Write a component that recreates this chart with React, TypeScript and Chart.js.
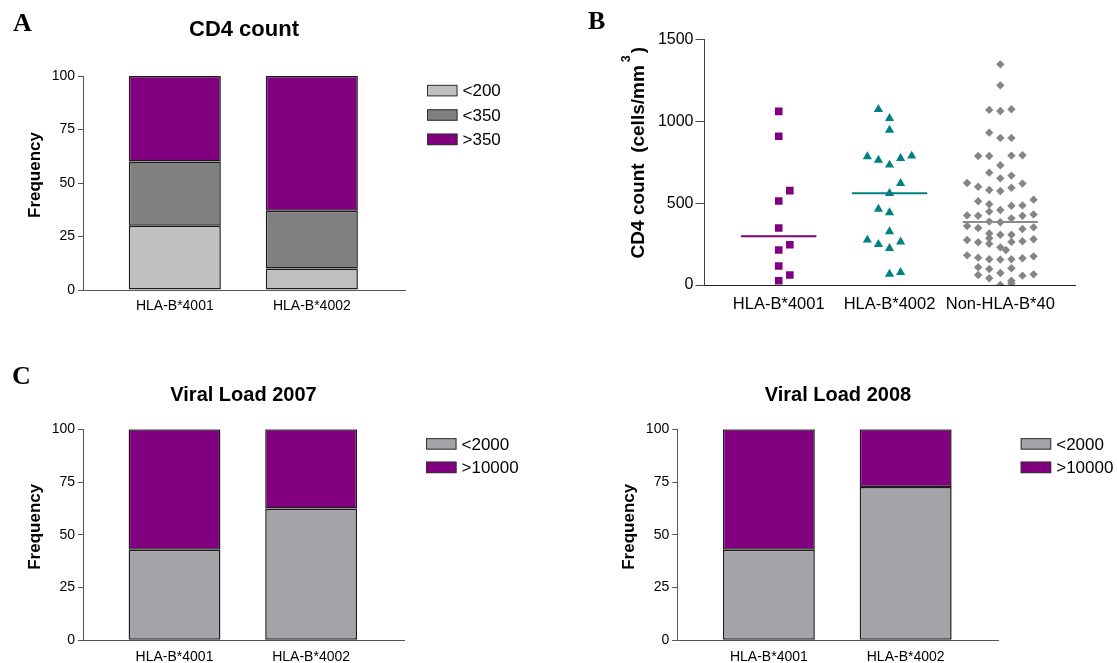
import React, { useEffect, useRef } from "react";
import { Chart, registerables } from "chart.js";

Chart.register(...registerables);

const FONT = "'Liberation Sans', Arial, Helvetica, sans-serif";
const SERIF = "'Liberation Serif', 'Times New Roman', serif";

// ---------------- data ----------------
const barCategories = ["HLA-B*4001", "HLA-B*4002"];
const frequencyTicks = [0, 25, 50, 75, 100];

const cd4Groups = ["<200", "<350", ">350"];
const cd4Below200 = [30, 10];
const cd4Below350 = [30, 27];
const cd4Above350 = [40, 63];
const cd4Colors = ["#c0c0c0", "#808080", "#800080"];

const viralGroups = ["<2000", ">10000"];
const vl2007Below2000 = [42.9, 62.5];
const vl2007Above10000 = [57.1, 37.5];
const vl2008Below2000 = [42.9, 72.7];
const vl2008Above10000 = [57.1, 27.3];
const viralColors = ["#a4a4a8", "#800080"];

const scatterCategories = ["HLA-B*4001", "HLA-B*4002", "Non-HLA-B*40"];
const cd4CountTicks = [0, 500, 1000, 1500];

// CD4 counts (cells/mm3) and horizontal jitter column of each point
const b4001Counts = [1060, 908, 576, 513, 348, 246, 214, 116, 61, 26];
const b4001Jitter = [0, 0, 1, 0, 0, 1, 0, 0, 1, 0];

const b4002Counts = [1073, 1018, 946, 784, 763, 773, 788, 733, 621, 560, 464, 442, 326, 275, 248, 263, 224, 67, 77];
const b4002Jitter = [-1, 0, 0, -2, -1, 1, 2, 0, 1, 0, -1, 0, 0, -2, -1, 1, 0, 0, 1];

const nonB40Counts = [
  1347, 1219, 1069, 1062, 1073, 930, 898, 898, 788, 788, 790, 792, 731, 686, 668, 651, 623, 619, 600, 594,
  580, 574, 521, 511, 493, 484, 486, 458, 448, 425, 423, 431, 423, 407, 387, 383, 360, 348, 342, 352,
  315, 307, 307, 285, 275, 261, 263, 267, 279, 252, 230, 214, 181, 167, 157, 155, 157, 163, 175, 108,
  98, 102, 73, 61, 41, 57, 65, 26, 0, 10,
];
const nonB40Jitter = [
  0, 0, -1, 0, 1, -1, 0, 1, -2, -1, 1, 2, 0, -1, 1, 0, -3, 2, -2, 1,
  -1, 0, 3, -2, -1, 1, 2, 0, -1, -3, -2, 3, 2, 1, -1, 0, -3, -2, 2, 3,
  -1, 0, 1, -1, -3, -2, 1, 2, 3, -1, 0, 0.5, -3, -2, -1, 0, 1, 2, 3, -2,
  -1, 1, 0, -2, -1, 2, 3, 1, 0, 1,
];

const JITTER_STEP = 0.1;
const MEDIAN_HALF = 0.34;

function median(vals: number[]) {
  const s = [...vals].sort((a, b) => a - b);
  const m = s.length >> 1;
  return s.length % 2 ? s[m] : (s[m - 1] + s[m]) / 2;
}

// ---------------- plugin for rotated axis titles and legends ----------------
function drawYTitle(ctx: CanvasRenderingContext2D, ca: any, t: any) {
  ctx.save();
  const cx = ca.left + t.dx;
  const cy = (ca.top + ca.bottom) / 2 + t.dy;
  ctx.translate(cx, cy);
  ctx.rotate(-Math.PI / 2);
  ctx.fillStyle = "#000";
  ctx.textBaseline = "middle";
  ctx.textAlign = "left";
  const mainFont = `bold ${t.size}px ${FONT}`;
  const supFont = `bold ${t.supSize || t.size}px ${FONT}`;
  ctx.font = mainFont;
  const wMain = ctx.measureText(t.text).width;
  let wSup = 0;
  let wAfter = 0;
  if (t.sup) {
    ctx.font = supFont;
    wSup = ctx.measureText(t.sup).width;
    ctx.font = mainFont;
    wAfter = ctx.measureText(t.after || "").width;
  }
  const total = wMain + (t.sup ? t.supGap + wSup + t.afterGap + wAfter : 0);
  let x = -total / 2;
  ctx.font = mainFont;
  ctx.fillText(t.text, x, 0);
  x += wMain;
  if (t.sup) {
    x += t.supGap;
    ctx.font = supFont;
    ctx.fillText(t.sup, x, -t.supRaise);
    x += wSup + t.afterGap;
    ctx.font = mainFont;
    ctx.fillText(t.after || "", x, 0);
  }
  ctx.restore();
}

function drawLegend(ctx: CanvasRenderingContext2D, ca: any, chart: any, L: any) {
  ctx.save();
  ctx.font = `${L.size}px ${FONT}`;
  ctx.textBaseline = "middle";
  ctx.textAlign = "left";
  chart.data.datasets.forEach((ds: any, i: number) => {
    const x = ca.right + L.dx;
    const y = ca.top + L.dy + i * L.spacing;
    ctx.fillStyle = ds.backgroundColor;
    ctx.fillRect(x, y - L.boxH / 2, L.boxW, L.boxH);
    ctx.strokeStyle = "#333";
    ctx.lineWidth = 1;
    ctx.strokeRect(x + 0.5, y - L.boxH / 2 + 0.5, L.boxW - 1, L.boxH - 1);
    ctx.fillStyle = "#000";
    ctx.fillText(ds.label, x + L.boxW + L.gap, y + 1);
  });
  ctx.restore();
}

const decorPlugin = {
  id: "decor",
  afterDraw(chart: any, _args: any, opts: any) {
    const { ctx, chartArea } = chart;
    if (opts && opts.yTitle) drawYTitle(ctx, chartArea, opts.yTitle);
    if (opts && opts.legend) drawLegend(ctx, chartArea, chart, opts.legend);
  },
};

// ---------------- chart builders ----------------
type BarCfg = {
  title: string;
  titleSize: number;
  titlePad: { top: number; bottom: number };
  series: number[][];
  names: string[];
  colors: string[];
  padding: { left: number; top: number; right: number; bottom: number };
  yWidth: number;
  xHeight: number;
  xPad: number;
  legendSpacing: number;
};

function makeBarChart(canvas: HTMLCanvasElement, cfg: BarCfg) {
  return new Chart(canvas, {
    type: "bar",
    data: {
      datasets: cfg.series.map((vals, i) => ({
        label: cfg.names[i],
        data: vals.map((v, j) => ({ x: j, y: v })),
        backgroundColor: cfg.colors[i],
        borderColor: "#1a1a1a",
        borderWidth: 1.5,
        borderSkipped: false,
        barPercentage: 0.672,
        categoryPercentage: 1,
      })),
    } as any,
    options: {
      animation: false,
      responsive: false,
      events: [],
      layout: { padding: cfg.padding },
      plugins: {
        legend: { display: false },
        tooltip: { enabled: false },
        title: {
          display: true,
          text: cfg.title,
          fullSize: false,
          color: "#000",
          font: { family: FONT, size: cfg.titleSize, weight: "bold", lineHeight: 1.2 },
          padding: cfg.titlePad,
        },
        decor: {
          yTitle: { text: "Frequency", size: 17, dx: -47.5, dy: -8 },
          legend: { dx: 22, dy: 14.6, spacing: cfg.legendSpacing, boxW: 30.5, boxH: 11.5, gap: 5, size: 17 },
        },
      } as any,
      scales: {
        x: {
          type: "linear",
          stacked: true,
          offset: false,
          min: -0.67,
          max: 1.68,
          afterBuildTicks: (s: any) => {
            s.ticks = barCategories.map((_, i) => ({ value: i }));
          },
          afterFit: (s: any) => {
            s.height = cfg.xHeight;
          },
          grid: { display: false, offset: false },
          border: { display: true, color: "#555", width: 1 },
          ticks: {
            font: { family: FONT, size: 14 },
            color: "#000",
            padding: cfg.xPad,
            autoSkip: false,
            maxRotation: 0,
            callback: (v: any) => barCategories[Math.round(Number(v))],
          },
        },
        y: {
          type: "linear",
          stacked: true,
          min: 0,
          max: 100,
          afterBuildTicks: (s: any) => {
            s.ticks = frequencyTicks.map((v) => ({ value: v }));
          },
          afterFit: (s: any) => {
            s.width = cfg.yWidth;
          },
          grid: { display: true, drawOnChartArea: false, drawTicks: true, tickLength: 5, color: "#555", lineWidth: 1 },
          border: { display: true, color: "#555", width: 1 },
          ticks: { font: { family: FONT, size: 14 }, color: "#000", padding: 3, callback: (v: any) => String(v) },
        },
      } as any,
    },
    plugins: [decorPlugin],
  } as any);
}

function groupPoints(counts: number[], jitter: number[], center: number) {
  return counts.map((v, i) => ({ x: center + jitter[i] * JITTER_STEP, y: v }));
}

function medianLine(counts: number[], center: number) {
  const m = median(counts);
  return [
    { x: center - MEDIAN_HALF, y: m },
    { x: center + MEDIAN_HALF, y: m },
  ];
}

function makeScatterChart(canvas: HTMLCanvasElement) {
  return new Chart(canvas, {
    type: "scatter",
    data: {
      datasets: [
        {
          label: "HLA-B*4001 median",
          data: medianLine(b4001Counts, 0),
          showLine: true,
          borderColor: "#800080",
          borderWidth: 2,
          pointRadius: 0,
        },
        {
          label: "HLA-B*4002 median",
          data: medianLine(b4002Counts, 1),
          showLine: true,
          borderColor: "#008080",
          borderWidth: 2,
          pointRadius: 0,
        },
        {
          label: "Non-HLA-B*40 median",
          data: medianLine(nonB40Counts, 2),
          showLine: true,
          borderColor: "#8c8c8c",
          borderWidth: 2,
          pointRadius: 0,
        },
        {
          label: "HLA-B*4001",
          data: groupPoints(b4001Counts, b4001Jitter, 0),
          pointStyle: "rect",
          pointRadius: 5.4,
          backgroundColor: "#800080",
          borderWidth: 0,
        },
        {
          label: "HLA-B*4002",
          data: groupPoints(b4002Counts, b4002Jitter, 1),
          pointStyle: "triangle",
          pointRadius: 5.3,
          backgroundColor: "#008080",
          borderWidth: 0,
        },
        {
          label: "Non-HLA-B*40",
          data: groupPoints(nonB40Counts, nonB40Jitter, 2),
          pointStyle: "rectRot",
          pointRadius: 4.2,
          backgroundColor: "#858585",
          borderWidth: 0,
        },
      ],
    } as any,
    options: {
      animation: false,
      responsive: false,
      events: [],
      layout: { padding: { left: 0, top: 39.3, right: 42, bottom: 15 } },
      plugins: {
        legend: { display: false },
        tooltip: { enabled: false },
        decor: {
          yTitle: {
            text: "CD4 count  (cells/mm",
            sup: "3",
            after: ")",
            size: 19,
            supSize: 12.5,
            supGap: 3,
            supRaise: 11.5,
            afterGap: 2,
            dx: -66,
            dy: -9.5,
          },
        },
      } as any,
      scales: {
        x: {
          type: "linear",
          offset: false,
          min: -0.67,
          max: 2.674,
          afterBuildTicks: (s: any) => {
            s.ticks = scatterCategories.map((_, i) => ({ value: i }));
          },
          afterFit: (s: any) => {
            s.height = 40;
          },
          grid: { display: false },
          border: { display: true, color: "#222", width: 1 },
          ticks: {
            font: { family: FONT, size: 16.5 },
            color: "#000",
            padding: 1.5,
            autoSkip: false,
            maxRotation: 0,
            callback: (v: any) => scatterCategories[Math.round(Number(v))],
          },
        },
        y: {
          type: "linear",
          min: 0,
          max: 1500,
          afterBuildTicks: (s: any) => {
            s.ticks = cd4CountTicks.map((v) => ({ value: v }));
          },
          afterFit: (s: any) => {
            s.width = 144.5;
          },
          grid: { display: true, drawOnChartArea: false, drawTicks: true, tickLength: 9, color: "#444", lineWidth: 1 },
          border: { display: true, color: "#444", width: 1 },
          ticks: { font: { family: FONT, size: 16 }, color: "#000", padding: 2, callback: (v: any) => String(v) },
        },
      } as any,
    },
    plugins: [decorPlugin],
  } as any);
}

// ---------------- layout ----------------
const boxStyle = (left: number, top: number, width: number, height: number): React.CSSProperties => ({
  position: "absolute",
  left,
  top,
  width,
  height,
});

const letterStyle = (left: number, top: number): React.CSSProperties => ({
  position: "absolute",
  left,
  top,
  fontFamily: SERIF,
  fontWeight: "bold",
  fontSize: 26,
  lineHeight: "26px",
  color: "#000",
});

export default function App() {
  const aRef = useRef<HTMLCanvasElement>(null);
  const bRef = useRef<HTMLCanvasElement>(null);
  const c1Ref = useRef<HTMLCanvasElement>(null);
  const c2Ref = useRef<HTMLCanvasElement>(null);

  useEffect(() => {
    const charts: Chart[] = [];
    if (aRef.current)
      charts.push(
        makeBarChart(aRef.current, {
          title: "CD4 count",
          titleSize: 22,
          titlePad: { top: 16.3, bottom: 33.3 },
          series: [cd4Below200, cd4Below350, cd4Above350],
          names: cd4Groups,
          colors: cd4Colors,
          padding: { left: 0, top: 0, right: 155, bottom: 10 },
          yWidth: 83,
          xHeight: 40,
          xPad: 0,
          legendSpacing: 24.4,
        })
      );
    if (bRef.current) charts.push(makeScatterChart(bRef.current));
    if (c1Ref.current)
      charts.push(
        makeBarChart(c1Ref.current, {
          title: "Viral Load 2007",
          titleSize: 20,
          titlePad: { top: 33, bottom: 22.3 },
          series: [vl2007Below2000, vl2007Above10000],
          names: viralGroups,
          colors: viralColors,
          padding: { left: 0, top: 0, right: 156, bottom: 0 },
          yWidth: 83,
          xHeight: 22.7,
          xPad: 0,
          legendSpacing: 23.5,
        })
      );
    if (c2Ref.current)
      charts.push(
        makeBarChart(c2Ref.current, {
          title: "Viral Load 2008",
          titleSize: 20,
          titlePad: { top: 33, bottom: 22.3 },
          series: [vl2008Below2000, vl2008Above10000],
          names: viralGroups,
          colors: viralColors,
          padding: { left: 0, top: 0, right: 118.3, bottom: 0 },
          yWidth: 117.2,
          xHeight: 22.7,
          xPad: 0,
          legendSpacing: 23.5,
        })
      );
    return () => charts.forEach((c) => c.destroy());
  }, []);

  return (
    <div
      style={{
        position: "absolute",
        left: 0,
        top: 0,
        width: 1117,
        height: 663,
        background: "#fff",
        overflow: "hidden",
      }}
    >
      <div style={boxStyle(0, 0, 560, 340)}>
        <canvas ref={aRef} width={560} height={340} style={{ width: 560, height: 340, display: "block" }} />
      </div>
      <div style={boxStyle(560, 0, 557, 340)}>
        <canvas ref={bRef} width={557} height={340} style={{ width: 557, height: 340, display: "block" }} />
      </div>
      <div style={boxStyle(0, 350, 560, 313)}>
        <canvas ref={c1Ref} width={560} height={313} style={{ width: 560, height: 313, display: "block" }} />
      </div>
      <div style={boxStyle(560, 350, 557, 313)}>
        <canvas ref={c2Ref} width={557} height={313} style={{ width: 557, height: 313, display: "block" }} />
      </div>
      <div style={letterStyle(13, 10)}>A</div>
      <div style={letterStyle(588, 8)}>B</div>
      <div style={letterStyle(12, 363)}>C</div>
    </div>
  );
}
